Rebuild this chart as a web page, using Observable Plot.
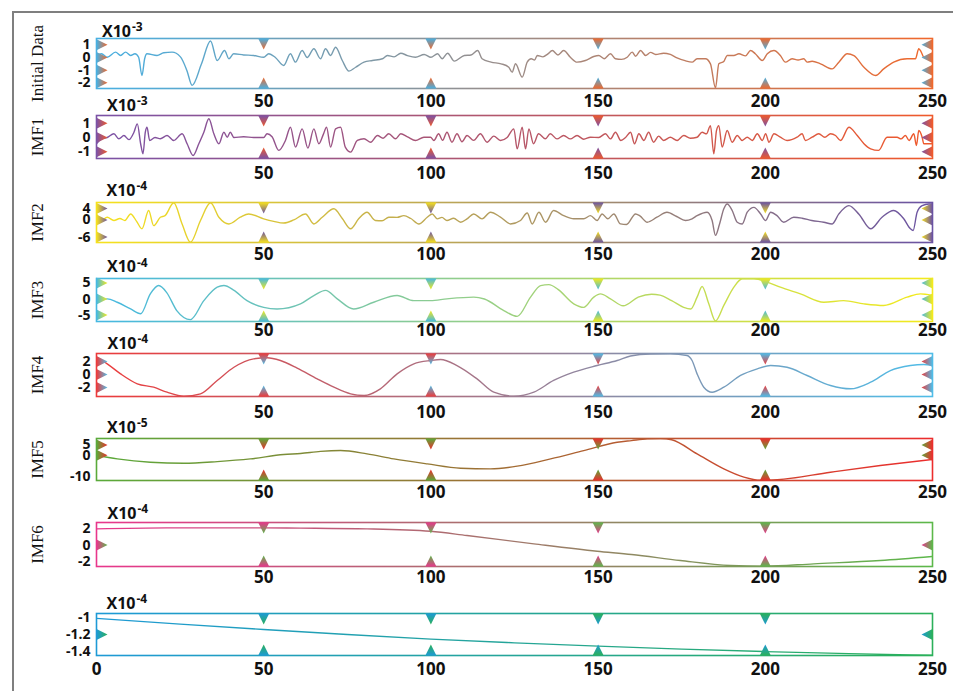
<!DOCTYPE html>
<html>
<head>
<meta charset="utf-8">
<script src="https://cdn.jsdelivr.net/npm/d3@7"></script>
<script src="https://cdn.jsdelivr.net/npm/@observablehq/plot@0.6"></script>
<style>
  body { margin: 0; background: #fff; }
  #chart { position: relative; width: 953px; height: 691px; overflow: hidden; background: #fff; }
  #border { position: absolute; left: 12px; top: 11px; width: 1000px; height: 1000px;
            border-left: 2px solid #7f7f7f; border-top: 2px solid #7f7f7f; }
  .panel { position: absolute; left: 0; }
</style>
</head>
<body>
<div id="chart">
  <div id="border"></div>
  <svg width="0" height="0" style="position:absolute"><defs id="defs"></defs></svg>
</div>
<script>
// ---- signal and its decomposition, [sample index, value] ----
const initialData = [[0,0.16],[1.5,0.3],[3.2,0.02],[5.7,0.42],[7.2,0.16],[8.7,0.42],[10.2,0.16],[11.5,0.3],[12.6,0.02],[13.6,-1.42],[14.4,-0.1],[15.1,0.29],[18.1,0.16],[20.1,0.37],[22.6,0.42],[25.1,0.05],[27,-1.0],[28.6,-2.2],[31.4,-0.5],[34.1,1.3],[36.1,-0.24],[38.3,0.55],[39.6,-0.1],[41,0.29],[44,0.2],[47,0.16],[50,0.02],[51.5,0.3],[53.5,0.0],[56,-0.63],[58,0.3],[59.5,-0.37],[61.5,0.55],[63,0.0],[65,0.69],[67,-0.1],[68.5,0.69],[70,0.16],[71.5,0.81],[73.5,-0.24],[75.5,-1.08],[77.5,-0.77],[80,-0.37],[82.5,-0.24],[85.5,-0.1],[87,0.16],[89,0.05],[91,0.34],[93,0.15],[95.4,0.02],[98,0.24],[100,0.02],[102,0.29],[103.4,-0.1],[105,0.34],[107,-0.29],[110,0.16],[112,0.2],[114,0.55],[115.3,-0.1],[118,-0.37],[121,-0.5],[123.3,-0.77],[124.3,-1.16],[125.3,-0.5],[127.3,-1.55],[128.8,-0.37],[130,-0.1],[131,-0.2],[131.8,0.16],[133.5,0.05],[135,0.29],[136.3,0.55],[138,0.2],[139.7,0.55],[141.7,0.02],[143.7,-0.37],[146.2,-0.24],[148.7,0.08],[150.2,0.16],[151.8,-0.1],[153.7,0.29],[155.2,-0.1],[157,-0.15],[158.7,0.02],[160.2,0.42],[161.2,0.1],[162.7,0.55],[164.2,0.16],[165.7,0.4],[167.2,0.24],[169.6,0.34],[171.6,0.24],[173.6,-0.03],[176,-0.25],[178.1,-0.37],[179.6,-0.1],[182.1,-0.1],[183.6,-0.5],[185.1,-2.4],[186.1,-0.5],[187.6,-0.31],[188.6,0.16],[190.6,0.16],[192.1,0.29],[194.1,0.13],[195.6,0.55],[197,0.3],[199.1,-0.24],[200.6,0.29],[202.6,0.55],[204.5,0.16],[206,-0.37],[208,-0.1],[209.8,-0.2],[211.5,-0.1],[212.5,-0.37],[214,-0.3],[216.5,-0.5],[220,-0.9],[222,-0.37],[224.5,0.29],[226.5,0.15],[229.5,-0.77],[233,-1.42],[235.4,-0.9],[238.4,-0.37],[242.4,-0.1],[244.9,-0.1],[245.9,0.69],[246.6,0.45],[247.4,0.02],[248.9,-0.1],[250,-0.1]];

const imf1 = [[0,-0.44],[1.5,-0.1],[3.2,0],[5.2,0.26],[6.7,-0.09],[8.2,0.14],[9.7,-0.15],[11.2,0.37],[12.2,0.96],[13.2,-0.44],[13.9,-1.15],[14.6,0.37],[15.1,0.72],[15.9,-0.21],[17.5,0.0],[19.1,-0.09],[21.1,0.14],[23.1,-0.21],[25.6,0.26],[27.1,-0.44],[28.9,-1.27],[30.6,-0.44],[32.1,0.37],[33.6,1.32],[35.1,0.26],[36.6,-0.44],[38.1,0.37],[39.1,0.02],[40,0.37],[41.1,0],[44,0.05],[47,0],[50,0],[51,0.26],[52.5,0.05],[54.5,-0.91],[56.5,-0.21],[58,0.72],[59.5,-0.68],[61.5,0.61],[63.2,-0.75],[65,0.61],[66.5,-0.44],[67.8,0.2],[68.8,0.72],[70,-0.68],[71.5,0.61],[73,0.72],[74.4,-0.68],[76,-1.03],[78,-0.21],[80,-0.09],[82,-0.33],[84,0.14],[85.7,-0.05],[87.4,0.26],[89.4,-0.09],[91,0.26],[93,0.05],[95.4,-0.21],[97.9,0.02],[99.9,0.02],[100.9,-0.21],[102.3,0.26],[103.5,-0.2],[104.8,0.37],[106.3,-0.33],[107.8,0.26],[109.3,-0.3],[110.8,0.14],[112.8,-0.2],[114.8,0.26],[116.8,-0.33],[118.8,0.1],[120.8,-0.21],[122.8,0.0],[124.8,0.61],[125.8,-0.8],[127.3,0.72],[128.3,-0.8],[129.3,0.61],[130.7,-0.44],[132.2,0.26],[134.2,-0.09],[135.7,0.26],[137.7,-0.1],[139.7,0.14],[141.7,-0.1],[143.7,0.14],[145.7,-0.12],[147.7,0.02],[150.2,0],[152.2,0.26],[153.7,-0.1],[155.2,0.37],[156.8,-0.21],[158.2,0.0],[159.7,0.37],[160.9,-0.44],[162.2,0.26],[163.7,-0.21],[165.1,0.37],[166.6,-0.33],[168.1,0.1],[169.6,-0.21],[171.6,0.02],[173.6,-0.21],[175.6,0.14],[177.6,-0.05],[179.6,0.02],[181.1,0.37],[182.4,0.26],[183.6,0.84],[184.6,-1.15],[185.4,0.49],[186.1,0.84],[187.1,-0.68],[188.6,0.49],[190.1,-0.33],[191.6,0.14],[193.1,-0.21],[194.6,0.02],[196.1,-0.21],[197.6,0.26],[199.1,-0.21],[200.1,0.26],[201.1,-0.33],[202.6,0.26],[204.5,0.02],[206.5,-0.21],[209.5,0.02],[211,0.26],[212,-0.21],[214,0.02],[216,0.26],[217.8,0.02],[219.5,0.26],[221,0.14],[222.5,-0.21],[225,0.72],[227.5,0.14],[229.5,-0.44],[231.5,-0.8],[233.9,-0.91],[236.4,0.02],[239.4,0.02],[240.6,-0.1],[241.9,0.14],[243,-0.21],[244.4,0.26],[245.2,-0.56],[245.9,0.49],[246.9,0.02],[247.4,-0.44],[250,-0.44]];

const imf2 = [[0,2.1],[1.5,-0.2],[3.2,0.94],[5.2,-0.2],[7,0.5],[8.5,-0.2],[10.2,2.1],[12,-0.5],[13.6,-3.1],[15.6,3.3],[17.1,-2.0],[19.1,0.94],[20.5,1.5],[23.1,6.0],[25.6,-1.4],[28.1,-7.8],[31.1,-0.2],[34.1,6.0],[36.6,0.94],[39.6,-1.4],[43,0.94],[45.5,2.1],[50,0.38],[53,-0.5],[56,-1.1],[59,0.0],[62.5,2.1],[65,-1.4],[67.5,0.94],[71,3.9],[73.5,0.5],[76,-3.1],[78.4,0.38],[80.9,2.7],[83.4,-0.2],[85.4,-0.3],[87.4,0.94],[89.9,0.9],[91.9,1.5],[94,0.5],[96.4,-1.4],[98.9,0.94],[100.4,2.1],[101.9,0.38],[103.3,0.9],[104.8,-0.2],[106.8,0.6],[108.9,-0.8],[110.8,0.4],[112.8,2.1],[115.3,0.38],[117.8,2.7],[120.8,1.0],[123.8,-1.4],[126.8,-0.2],[128.8,2.4],[130.3,-1.4],[132.3,2.7],[134.3,-0.8],[136.7,3.3],[139.7,1.5],[142.7,0.4],[145.7,0.4],[147.7,1.5],[149.7,-0.2],[151.2,2.1],[152.9,0.4],[154.7,2.1],[156.7,-1.4],[158.5,-1.6],[161.2,2.1],[162.5,1.4],[164.7,-0.8],[167.6,0.94],[170.6,2.7],[173.5,1.2],[176.1,-0.2],[178.1,0.4],[179.6,1.5],[182.6,2.7],[184.1,-0.2],[185.1,-5.4],[186.3,-1.5],[187.6,3.9],[188.6,5.6],[190.1,3.3],[191.6,-0.8],[193.1,-1.4],[194.6,2.7],[196.6,4.4],[198.6,2.1],[200.1,-0.2],[201.6,2.7],[203.5,1.5],[205.5,-0.8],[208.5,0.94],[211,0.6],[213.9,-0.2],[217.5,-0.8],[220,-1.4],[222,2.1],[225,5.0],[228,2.0],[231.5,-3.1],[234.9,0.94],[238.4,3.3],[241.4,0.4],[243.4,-3.1],[244.2,-3.7],[245.4,2.7],[246.9,5.0],[248.9,5.6],[250,5.6]];

const imf3 = [[0,-0.47],[3.2,0.06],[6.2,-1.0],[10.2,-3.1],[13.2,-4.6],[16.1,1.6],[18.6,4.2],[21,2.0],[24,-3.6],[28.1,-6.4],[32.1,-0.5],[36.1,3.7],[38.1,4.2],[41,2.8],[45,-0.5],[50,-2.6],[54,-3.1],[61,-1.5],[65,1.1],[68.5,2.7],[72,0.06],[76.9,-3.1],[82.9,-1.0],[89.9,1.1],[94.9,-0.5],[99.9,-0.5],[104.8,0.06],[112.8,0.6],[116,0.0],[121.8,-3.6],[125.8,-5.4],[129.8,0.6],[132.8,4.2],[135.3,4.5],[138,3.0],[142.7,-1.5],[145.7,-2.6],[148.7,0.6],[150.7,1.6],[153.7,0.06],[157.5,-2.1],[162,0.6],[166,1.5],[168.5,1.2],[172,-0.5],[175.6,-2.6],[177.7,-3.1],[179.6,0.6],[181.1,3.9],[183.1,-1.5],[185.1,-6.8],[187.6,-2.0],[190.6,3.7],[193.1,6.3],[196.6,6.3],[200.6,5.25],[204.5,3.7],[210.5,1.6],[217.5,-1.0],[223.4,-0.5],[229.5,-1.5],[235.4,-2.0],[242.4,0.6],[246.4,1.6],[250,1.1]];

const imf4 = [[0,2.66],[3.2,1.64],[7.2,0.1],[12.2,-1.43],[17.1,-1.95],[21.1,-2.72],[26.1,-3.33],[31.1,-2.97],[36.1,-0.92],[41.1,1.12],[47,2.41],[51,2.57],[55,2.15],[60,1.0],[66,-0.67],[71,-1.95],[76,-2.97],[80,-3.23],[84.9,-2.2],[89.9,0.1],[94.9,1.64],[99.9,2.15],[102.9,2.3],[107.8,1.38],[113.8,-0.67],[118.8,-2.72],[124.8,-3.33],[130.8,-2.72],[136.7,-0.92],[142.7,0.36],[149.7,1.38],[155.7,2.15],[159.7,2.85],[165.7,3.15],[171.6,3.18],[176.6,2.92],[178.1,2.15],[179.6,0.1],[181.6,-1.95],[184.1,-2.72],[187.6,-1.95],[192.6,-0.15],[197.6,0.87],[201.6,1.38],[206.5,1.12],[212.5,-0.15],[219.5,-1.69],[225.5,-2.2],[231.5,-1.18],[237.4,0.61],[243.4,1.38],[247.4,1.54],[250,1.4]];

const imf5 = [[0,-0.1],[6.2,-1.7],[16.1,-3.3],[26.1,-3.8],[36.1,-3.0],[46,-1.7],[56,0.4],[61,0.9],[67,1.9],[73,2.3],[80.9,0.7],[88.9,-1.7],[98.9,-4.1],[108.9,-6.2],[117.8,-6.5],[125.8,-5.2],[135.8,-1.7],[145.7,2.3],[155.7,6.3],[160,7.1],[164.7,7.9],[168.7,8.1],[172,7.5],[179.6,0.7],[187.6,-6.5],[193.6,-10.5],[198.6,-12.0],[203.6,-11.7],[219.5,-8.1],[234.4,-4.9],[250,-2.0]];

const imf6 = [[0,1.96],[21,2.08],[50,2.08],[61,2.05],[80.9,1.96],[99.9,1.67],[110.8,1.15],[130.8,0.14],[149.7,-0.75],[160,-1.15],[174.6,-1.88],[189.6,-2.48],[199.5,-2.57],[214.5,-2.28],[234.4,-1.88],[250,-1.39]];

const residue = [[0,-1.007],[25,-1.075],[50,-1.14],[75,-1.2],[100,-1.255],[125,-1.3],[150,-1.34],[175,-1.375],[200,-1.405],[225,-1.43],[250,-1.45]];

// ---- panel settings ----
const panelSeries = [initialData, imf1, imf2, imf3, imf4, imf5, imf6, residue];
const panelTitles = ["Initial Data", "IMF1", "IMF2", "IMF3", "IMF4", "IMF5", "IMF6", ""];
const panelExponents = ["-3", "-3", "-4", "-4", "-4", "-5", "-4", "-4"];
const panelDomains = [[-2.45, 1.5], [-1.48, 1.55], [-7.9, 6.1], [-7.0, 6.4], [-3.38, 3.23], [-12.1, 8.1], [-2.6, 2.73], [-1.452, -0.948]];
const panelTicks = [[1, 0, -1, -2], [1, 0, -1], [4, 0, -6], [5, 0, -5], [2, 0, -2], [5, 0, -10], [2, 0, -2], [-1, -1.2, -1.4]];
const sideMarkers = [[1, 0, -1, -2], [1, 0, -1], [4, 0, -6], [5, 0, -5], [2, 0, -2], [5, 0], [0], [-1.2]];
const panelColors = [
  ["#48b0e2", "#f0682c"],
  ["#7b52a6", "#ef5a2c"],
  ["#f6e21e", "#6a52a3"],
  ["#45b8e2", "#f4ea1c"],
  ["#ec3b3b", "#4fbde8"],
  ["#5aaa3a", "#ec2d2d"],
  ["#e8368c", "#5cb84a"],
  ["#1e9ad6", "#2bb05a"]
];
const xTicks = [50, 100, 150, 200, 250];
const xTicksBottom = [0, 50, 100, 150, 200, 250];
const markerTicks = [50, 100, 150, 200];

// ---- layout (pixels) ----
const frameTop = [38, 115, 202, 278, 353, 438, 522, 613];
const frameBottom = [88, 158, 242, 321, 396, 480, 566, 655];
const xLabelPad = [6, 8.5, 5, 2, 9, 5, 4, 7];
const scaleLabelRaise = [2, 5, 7, 6.5, 5, 6, 4, 5];
const scaleLabelShift = [5.5, 10.5, 10, 10.5, 11, 10.5, 11, 10];
const W = 953, ML = 96, MR = 21, MT = 30, MB = 28;

const NS = "http://www.w3.org/2000/svg";
const defs = document.getElementById("defs");
const chart = document.getElementById("chart");

function addGradient(id, c0, c1, attrs) {
  const g = document.createElementNS(NS, "linearGradient");
  g.setAttribute("id", id);
  for (const [k, v] of Object.entries(attrs)) g.setAttribute(k, v);
  for (const [o, c] of [[0, c0], [1, c1]]) {
    const s = document.createElementNS(NS, "stop");
    s.setAttribute("offset", o);
    s.setAttribute("stop-color", c);
    g.appendChild(s);
  }
  defs.appendChild(g);
}

// triangle markers anchored on their base midpoint
const TW = 11, TH = 11;
const triDown = {draw(c) { c.moveTo(-TW / 2, 0); c.lineTo(TW / 2, 0); c.lineTo(0, TH); c.closePath(); }};
const triUp = {draw(c) { c.moveTo(-TW / 2, 0); c.lineTo(TW / 2, 0); c.lineTo(0, -TH); c.closePath(); }};
const triRight = {draw(c) { c.moveTo(0, -TW / 2); c.lineTo(0, TW / 2); c.lineTo(TH, 0); c.closePath(); }};
const triLeft = {draw(c) { c.moveTo(0, -TW / 2); c.lineTo(0, TW / 2); c.lineTo(-TH, 0); c.closePath(); }};

const fmt = d => String(d);

panelSeries.forEach((series, i) => {
  const [c0, c1] = panelColors[i];
  addGradient(`run${i}`, c0, c1, {gradientUnits: "userSpaceOnUse", x1: ML, y1: 0, x2: W - MR, y2: 0});
  addGradient(`v01_${i}`, c0, c1, {x1: 0, y1: 0, x2: 0, y2: 1});
  addGradient(`v10_${i}`, c1, c0, {x1: 0, y1: 0, x2: 0, y2: 1});
  addGradient(`h01_${i}`, c0, c1, {x1: 0, y1: 0, x2: 1, y2: 0});

  const [lo, hi] = panelDomains[i];
  const h = frameBottom[i] - frameTop[i];
  const left = markerTicks.filter(t => t < 125);
  const right = markerTicks.filter(t => t > 125);
  const last = i === panelSeries.length - 1;

  const svg = Plot.plot({
    width: W,
    height: MT + h + MB,
    marginLeft: ML, marginRight: MR, marginTop: MT, marginBottom: MB,
    x: {domain: [0, 250]},
    y: {domain: [lo, hi]},
    style: {fontFamily: "'Open Sans', sans-serif", color: "#111", background: "transparent", overflow: "visible"},
    marks: [
      Plot.frame({stroke: `url(#run${i})`, strokeWidth: 1.6}),
      Plot.line(series, {x: d => d[0], y: d => d[1], stroke: `url(#run${i})`, strokeWidth: 1.4, curve: "monotone-x", clip: true}),
      // tick markers along the top and bottom edges
      Plot.dot(left, {x: d => d, y: () => hi, symbol: triDown, fill: `url(#v01_${i})`, stroke: "none"}),
      Plot.dot(right, {x: d => d, y: () => hi, symbol: triDown, fill: `url(#v10_${i})`, stroke: "none"}),
      Plot.dot(left, {x: d => d, y: () => lo, symbol: triUp, fill: `url(#v10_${i})`, stroke: "none"}),
      Plot.dot(right, {x: d => d, y: () => lo, symbol: triUp, fill: `url(#v01_${i})`, stroke: "none"}),
      // tick markers along the left and right edges
      Plot.dot(sideMarkers[i], {x: () => 0, y: d => d, symbol: triRight, fill: `url(#h01_${i})`, stroke: "none"}),
      Plot.dot(sideMarkers[i], {x: () => 250, y: d => d, symbol: triLeft, fill: `url(#h01_${i})`, stroke: "none"}),
      Plot.axisX({ticks: last ? xTicksBottom : xTicks, tickSize: 0, tickPadding: xLabelPad[i], tickFormat: fmt,
                  fontSize: 17, fontWeight: "bold", fill: "#111", label: null}),
      Plot.axisY({ticks: panelTicks[i], tickSize: 0, tickPadding: 6, tickFormat: fmt,
                  fontSize: 14, fontWeight: "bold", fill: "#111", label: null}),
      // scale factor above each panel
      Plot.text(["X10"], {frameAnchor: "top-left", text: d => d, textAnchor: "start", lineAnchor: "bottom",
                          dx: scaleLabelShift[i], dy: -scaleLabelRaise[i], fontSize: 16, fontWeight: "bold", fill: "#111"}),
      Plot.text([panelExponents[i]], {frameAnchor: "top-left", text: d => d, textAnchor: "start", lineAnchor: "bottom",
                          dx: scaleLabelShift[i] + 30, dy: -scaleLabelRaise[i] - 5.5, fontSize: 12, fontWeight: "bold", fill: "#111"}),
      // panel name
      Plot.text([panelTitles[i]], {frameAnchor: "left", text: d => d, rotate: -90, dx: -59,
                          textAnchor: "middle", lineAnchor: "middle",
                          fontFamily: "'Liberation Serif', 'Times New Roman', serif", fontSize: 17, fill: "#111"})
    ]
  });
  svg.classList.add("panel");
  svg.style.top = (frameTop[i] - MT) + "px";
  chart.appendChild(svg);
});
</script>
</body>
</html>
